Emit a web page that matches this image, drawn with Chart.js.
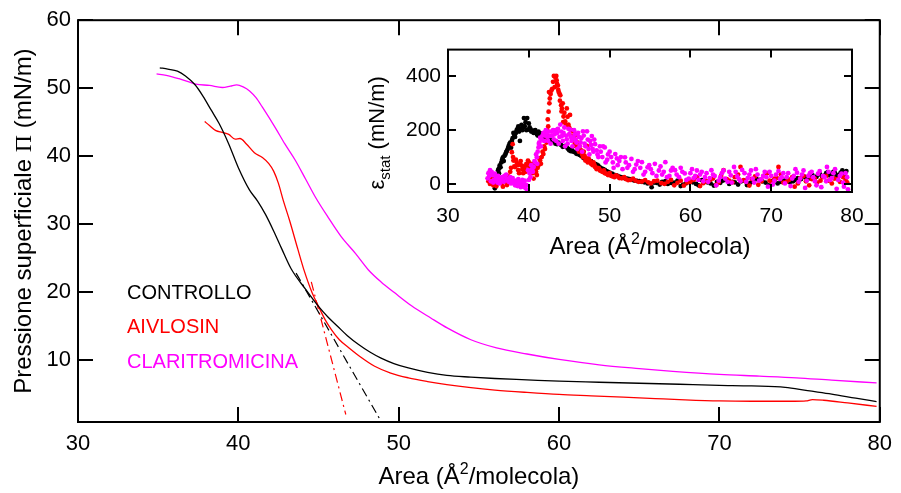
<!DOCTYPE html>
<html lang="it">
<head>
<meta charset="utf-8">
<title>Isoterme superficiali</title>
<script src="https://cdn.jsdelivr.net/npm/chart.js@4.4.1/dist/chart.umd.min.js"></script>
<style>
  html, body { margin: 0; padding: 0; background: #fff; }
  #wrap { position: relative; width: 901px; height: 493px; }
  #mainChart { position: absolute; left: 0; top: 0; }
  #insetChart { position: absolute; left: 340px; top: 30px; }
</style>
</head>
<body>
<div id="wrap">
  <canvas id="mainChart" width="901" height="493"></canvas>
  <canvas id="insetChart" width="540" height="230"></canvas>
</div>
<script>
// ========================================
// Data
// ========================================
const xTicks = [30, 40, 50, 60, 70, 80];
const yTicks = [10, 20, 30, 40, 50, 60];
const insetXTicks = [30, 40, 50, 60, 70, 80];
const insetYTicks = [0, 200, 400];

const seriesNames = ['CONTROLLO', 'AIVLOSIN', 'CLARITROMICINA'];
const seriesColors = ['#000000', '#ff0000', '#ff00ff'];

// Isoterme Π-A: [area, pressione]
const controllo = [
  [35.1,53.0],[35.6,52.8],[36.2,52.5],[36.7,51.8],[37.3,50.5],[37.8,48.8],[38.3,46.8],[38.8,44.8],
  [39.4,41.8],[40.0,38.3],[40.7,35.0],[41.2,33.4],[41.7,31.4],[42.2,29.0],[42.7,26.4],[43.3,23.4],
  [44.2,20.4],[45.0,17.9],[45.6,16.3],[46.2,14.95],[46.8,13.6],[47.5,12.3],[48.2,11.2],[48.9,10.3],
  [49.7,9.5],[50.6,8.85],[51.8,8.2],[53.0,7.75],[54.5,7.5],[56.0,7.3],[58.0,7.1],[60.0,6.9],
  [62.5,6.75],[65.0,6.6],[67.5,6.45],[70.0,6.3],[72.0,6.2],[74.1,6.0],[75.5,5.5],[77.0,5.0],
  [78.5,4.4],[79.8,3.9]
];
const aivlosin = [
  [37.9,45.1],[38.2,44.5],[38.6,43.75],[39.0,43.5],[39.4,43.2],[39.8,42.5],[40.1,42.6],[40.5,41.8],
  [41.0,40.5],[41.5,39.8],[41.9,38.9],[42.2,37.8],[42.5,36.0],[42.8,33.5],[43.2,30.5],[43.7,26.4],
  [44.1,23.2],[44.6,19.9],[45.0,17.9],[45.4,16.0],[45.8,14.5],[46.3,13.0],[46.9,11.8],[47.6,10.5],
  [48.5,9.1],[49.5,8.1],[50.6,7.4],[51.8,6.85],[53.0,6.4],[54.5,5.95],[56.0,5.6],[58.0,5.25],
  [60.0,4.95],[62.0,4.75],[64.0,4.55],[66.0,4.35],[67.5,4.2],[70.0,4.0],[72.0,3.95],[74.7,3.95],
  [75.4,4.0],[75.8,4.2],[76.5,4.1],[78.0,3.7],[79.8,3.2]
];
const claritromicina = [
  [34.9,52.1],[35.5,51.9],[36.3,51.4],[37.35,50.6],[38.2,50.4],[39.0,50.1],[39.5,50.3],[39.9,50.5],
  [40.3,50.2],[40.7,49.6],[41.1,48.6],[41.5,47.2],[42.3,44.2],[42.9,41.8],[43.55,39.4],[44.2,36.6],
  [44.8,34.0],[45.6,31.0],[46.4,28.2],[47.3,25.7],[48.1,23.3],[48.9,21.5],[49.75,19.9],[50.8,18.0],
  [52.0,16.2],[53.05,14.7],[54.5,13.0],[56.1,11.8],[58.0,10.9],[60.0,10.1],[62.5,9.3],[65.0,8.75],
  [67.1,8.35],[70.0,7.9],[72.5,7.65],[74.8,7.4],[77.0,7.05],[79.8,6.65]
];
// rette di estrapolazione (tratto-punto)
const tangenteControllo = [[43.6,22.8],[48.9,1.0]];
const tangenteAivlosin = [[44.55,21.5],[46.7,2.0]];

// Modulo elastico statico: [area, epsilon]
const elastControllo = [
  [35.8,-16],[35.9,5],[36.0,30],[36.2,51],[36.3,40],[36.4,69],[36.6,80],[36.8,99],[36.9,85],[37.1,110],
  [37.3,124],[37.5,140],[37.7,154],[37.8,135],[38.0,170],[38.1,190],[38.3,175],[38.5,200],[38.7,214],
  [38.8,195],[38.9,160],[39.0,205],[39.1,220],[39.3,210],[39.4,245],[39.5,215],[39.7,200],[39.8,245],
  [39.9,202],[40.1,210],[40.3,195],[40.6,190],[40.8,200],[41.0,185],[41.2,195],[41.4,178],[41.7,185],
  [42.0,170],[42.3,175],[42.6,165],[43.0,160],[43.3,150],[43.6,155],[44.0,145],[44.3,140],[44.7,136],
  [45.0,125],[45.3,128],[45.7,118],[46.1,111],[46.5,104],[46.9,95],[47.3,90],[47.7,85],[48.2,75],
  [48.6,68],[49.0,58],[49.4,52],[49.8,45],[50.3,38],[50.8,32],[51.3,26],[51.9,21],[52.5,18],[53.1,12],
  [53.7,10],[54.3,6],[55.2,-12],[55.8,4],[56.5,8],[57.2,0],[58.0,5],[58.8,-8],[59.5,3],[60.3,6],
  [61.0,-5],[61.8,10],[62.5,2],[63.3,8],[64.0,12],[64.8,0],[65.5,6],[66.3,10],[67.0,-4],[67.8,8],
  [68.6,15],[69.3,5],[70.1,10],[70.8,2],[71.6,12],[72.3,6],[73.0,15],[73.7,18],[74.3,25],[74.8,30],
  [75.3,22],[75.8,35],[76.3,28],[76.8,40],[77.2,32],[77.7,45],[78.1,30],[78.6,42],[79.0,35],[79.3,48],
  [35.9,-8],[36.1,20],[36.3,58],[36.5,62],[36.7,90],[37.0,105],[37.2,118],[37.4,130],[37.6,148],[37.9,160],
  [38.2,182],[38.4,190],[38.6,205],[39.2,200],[39.6,230],[40.0,225],[40.2,205],[40.5,198],[40.9,192],
  [41.1,180],[41.5,188],[41.9,175],[42.2,168],[42.5,172],[42.8,160],[43.2,158],[43.5,148],[43.8,150],
  [44.2,138],[44.5,142],[44.9,130],[45.2,122],[45.5,120],[45.9,112],[46.3,108],[46.7,98],[47.1,92],
  [47.5,86],[47.9,80],[48.4,72],[48.8,62],[49.2,55],[49.6,48],[50.0,42],[50.5,35],[51.0,30],[51.6,24],
  [52.2,20],[52.8,15],[53.4,11],[54.0,8],[54.7,2],[55.5,5],[56.2,-2],[56.9,10],[57.6,4],[58.4,12],
  [59.1,-3],[59.9,9],[60.7,0],[61.4,14],[62.1,6],[62.9,-6],[63.7,4],[64.4,16],[65.2,8],[65.9,-2],
  [66.7,12],[67.4,4],[68.2,18],[68.9,10],[69.7,-5],[70.4,14],[71.2,8],[72.0,20],[72.7,10],[73.3,22],
  [74.0,28],[74.6,20],[75.1,33],[75.6,26],[76.0,38],[76.5,30],[77.0,44],[77.5,36],[77.9,40],[78.4,34],
  [78.8,50],[79.1,38]
];
const elastAivlosin = [
  [35.0,10],[35.3,25],[35.6,-5],[35.9,15],[36.2,5],[36.5,20],[36.8,-10],[37.1,8],[37.4,30],[37.7,45],
  [37.9,118],[38.0,148],[38.1,87],[38.2,65],[38.3,63],[38.5,80],[38.7,51],[38.9,72],[39.1,69],[39.3,40],
  [39.5,57],[39.7,75],[39.9,87],[40.1,60],[40.4,75],[40.6,20],[40.8,55],[41.0,33],[41.2,70],[41.4,87],
  [41.6,100],[41.8,111],[42.0,130],[42.2,154],[42.3,180],[42.4,214],[42.45,269],[42.5,342],[42.6,318],
  [42.8,348],[42.9,354],[43.1,402],[43.3,395],[43.4,402],[43.5,372],[43.6,366],[43.7,342],[43.8,336],
  [43.9,330],[44.0,293],[44.1,281],[44.2,300],[44.3,251],[44.5,233],[44.7,281],[44.8,250],[44.9,221],
  [45.1,257],[45.3,200],[45.5,196],[45.7,150],[45.9,184],[46.1,130],[46.3,140],[46.6,110],[46.8,120],
  [47.0,87],[47.2,142],[47.4,95],[47.7,75],[48.0,80],[48.2,63],[48.5,60],[48.8,50],[49.1,45],[49.4,40],
  [49.8,33],[50.2,30],[50.6,25],[51.0,28],[51.5,21],[52.0,18],[52.6,15],[53.2,12],[54.0,9],[54.8,6],
  [55.5,10],[56.4,3],[57.2,8],[58.0,-5],[58.8,12],[59.6,5],[60.4,15],[61.2,-8],[62.0,10],[62.8,20],
  [63.5,5],[64.1,51],[64.8,12],[65.5,25],[66.2,63],[66.9,8],[67.6,18],[68.4,-3],[69.1,30],[69.8,12],
  [70.4,20],[70.9,63],[71.5,5],[72.2,15],[72.9,-10],[73.6,22],[74.3,10],[75.0,18],[75.7,5],[76.4,25],
  [77.1,12],[77.8,20],[78.5,8],[79.2,15],
  [35.2,0],[35.5,18],[35.8,30],[36.0,-8],[36.3,12],[36.7,2],[37.0,25],[37.3,-4],[37.6,15],[37.8,60],
  [38.05,100],[38.4,90],[38.6,70],[38.8,40],[39.0,85],[39.2,55],[39.4,65],[39.6,45],[39.8,70],[40.0,80],
  [40.2,50],[40.5,40],[40.7,68],[40.9,45],[41.1,60],[41.3,95],[41.5,75],[41.7,120],[41.9,140],[42.1,160],
  [42.25,200],[42.35,240],[42.55,300],[42.7,335],[43.0,380],[43.2,360],[43.45,385],[43.65,350],[43.85,310],
  [44.05,270],[44.25,230],[44.4,265],[44.6,220],[45.0,210],[45.2,180],[45.4,165],[45.6,175],[45.8,140],
  [46.0,155],[46.2,120],[46.5,125],[46.7,100],[46.9,105],[47.1,95],[47.3,80],[47.6,85],[47.9,70],[48.1,72],
  [48.4,55],[48.7,58],[49.0,48],[49.3,50],[49.6,38],[50.0,40],[50.4,28],[50.8,32],[51.2,22],[51.8,25],
  [52.3,14],[52.9,20],[53.6,8],[54.4,14],[55.1,2],[55.9,12],[56.8,0],[57.6,15],[58.4,4],[59.2,-6],
  [60.0,8],[60.8,25],[61.6,3],[62.4,14],[63.2,-4],[63.8,30],[64.5,18],[65.2,6],[65.9,35],[66.6,14],
  [67.3,-6],[68.0,28],[68.8,10],[69.5,40],[70.1,4],[70.7,22],[71.2,35],[71.9,8],[72.6,25],[73.3,2],
  [74.0,30],[74.7,-5],[75.4,20],[76.1,12],[76.8,30],[77.5,2],[78.2,18],[78.9,25],[79.4,6]
];
const elastClaritromicina = [
  [34.9,21],[35.0,40],[35.2,51],[35.3,10],[35.5,33],[35.7,15],[35.9,28],[36.1,5],[36.3,22],[36.5,12],
  [36.8,15],[37.0,30],[37.3,20],[37.5,8],[37.7,25],[37.9,15],[38.1,10],[38.3,-5],[38.5,2],[38.7,18],
  [38.9,-4],[39.1,5],[39.3,-10],[39.5,12],[39.6,-16],[39.7,-4],[39.8,-28],[39.9,51],[40.0,15],[40.1,40],
  [40.4,55],[40.6,63],[40.8,80],[41.0,99],[41.1,120],[41.2,136],[41.3,155],[41.4,172],[41.6,165],[41.8,190],
  [42.0,180],[42.2,190],[42.4,160],[42.6,178],[42.8,195],[43.1,166],[43.3,200],[43.5,190],[43.7,150],
  [43.9,221],[44.1,178],[44.3,190],[44.5,140],[44.7,166],[44.9,205],[45.1,202],[45.3,160],[45.5,172],
  [45.7,184],[45.9,154],[46.1,190],[46.3,140],[46.5,170],[46.7,196],[46.9,150],[47.2,196],[47.4,130],
  [47.6,160],[47.8,178],[48.0,120],[48.2,148],[48.5,110],[48.8,140],[49.1,100],[49.4,136],[49.7,90],
  [50.0,120],[50.4,80],[50.7,111],[51.0,70],[51.4,100],[51.9,99],[52.2,60],[52.7,93],[53.1,55],[53.5,85],
  [54.0,81],[54.4,45],[54.9,70],[55.3,40],[55.6,75],[56.1,50],[56.5,35],[56.9,81],[57.4,30],[57.8,60],
  [58.1,51],[58.6,25],[59.0,45],[59.3,39],[59.8,20],[60.2,55],[60.6,30],[61.0,15],[61.4,45],[61.8,25],
  [62.2,8],[62.6,51],[63.0,30],[63.5,12],[63.9,40],[64.3,20],[64.8,45],[65.1,5],[65.4,63],[65.8,28],
  [66.2,10],[66.7,40],[67.1,22],[67.5,50],[67.9,5],[68.3,35],[68.8,18],[69.2,45],[69.6,-10],[70.0,30],
  [70.4,12],[70.9,48],[71.3,25],[71.7,2],[72.1,40],[72.6,20],[73.0,55],[73.4,8],[73.8,35],[74.2,-15],
  [74.6,30],[75.0,45],[75.4,10],[75.8,38],[76.2,-12],[76.6,25],[76.9,63],[77.3,15],[77.7,40],[78.1,-18],
  [78.5,30],[78.9,5],[79.2,40],[79.5,-20],
  [35.1,30],[35.4,45],[35.6,5],[35.8,38],[36.0,18],[36.2,30],[36.4,2],[36.7,25],[36.9,8],[37.2,35],
  [37.4,12],[37.6,18],[37.8,2],[38.0,22],[38.2,8],[38.4,12],[38.6,-8],[38.8,8],[39.0,-12],[39.2,15],
  [39.4,0],[40.2,25],[40.3,70],[40.5,45],[40.7,85],[40.9,110],[41.05,75],[41.25,150],[41.5,140],[41.7,180],
  [41.9,160],[42.1,200],[42.3,175],[42.5,195],[42.7,150],[42.9,180],[43.0,200],[43.2,185],[43.4,160],
  [43.6,205],[43.8,175],[44.0,195],[44.2,160],[44.4,210],[44.6,180],[44.8,150],[45.0,185],[45.2,175],
  [45.4,140],[45.6,200],[45.8,165],[46.0,130],[46.2,175],[46.4,155],[46.6,120],[46.8,180],[47.0,140],
  [47.3,165],[47.5,110],[47.7,145],[47.9,130],[48.1,165],[48.4,125],[48.6,100],[48.9,120],[49.2,140],
  [49.5,80],[49.8,110],[50.2,100],[50.5,60],[50.9,95],[51.2,85],[51.6,55],[52.0,80],[52.4,70],[52.9,45],
  [53.3,72],[53.8,60],[54.2,35],[54.7,62],[55.1,55],[55.8,30],[56.3,65],[56.7,45],[57.1,25],[57.6,50],
  [58.3,35],[58.8,60],[59.5,15],[60.0,40],[60.4,22],[60.8,50],[61.2,35],[61.6,10],[62.0,40],[62.4,22],
  [62.8,35],[63.2,-5],[63.7,25],[64.1,50],[64.6,8],[65.0,32],[65.6,45],[66.0,18],[66.4,52],[66.9,8],
  [67.3,35],[67.7,20],[68.1,55],[68.5,12],[69.0,30],[69.4,25],[69.8,45],[70.2,-2],[70.6,35],[71.1,18],
  [71.5,40],[71.9,25],[72.4,-8],[72.8,30],[73.2,42],[73.6,20],[74.0,50],[74.4,12],[74.8,40],[75.2,25],
  [75.6,-5],[76.0,48],[76.4,30],[76.8,10],[77.1,45],[77.5,22],[77.9,55],[78.3,15],[78.7,38],[79.0,-10],
  [79.4,25]
];

// ========================================
// Helpers & plugins
// ========================================
const FONT = '"Liberation Sans", Arial, Helvetica, sans-serif';
const SERIF = '"Liberation Serif", "Times New Roman", serif';
Chart.defaults.font.family = FONT;
Chart.defaults.color = '#000';

const toXY = pts => pts.map(p => ({ x: p[0], y: p[1] }));

// text made of runs, for superscripts/subscripts in the axis titles
function drawRuns(ctx, runs, x, y, size, rotate) {
  ctx.save();
  ctx.translate(x, y);
  if (rotate) ctx.rotate(-Math.PI / 2);
  ctx.fillStyle = '#000';
  ctx.textBaseline = 'alphabetic';
  const fontOf = r => `${Math.round(size * (r.s || 1))}px ${r.f || FONT}`;
  let total = 0;
  runs.forEach(r => { ctx.font = fontOf(r); total += ctx.measureText(r.t).width; });
  let cx = -total / 2;
  const base = size * 0.36;
  runs.forEach(r => {
    ctx.font = fontOf(r);
    ctx.fillText(r.t, cx, base + (r.dy || 0) * size);
    cx += ctx.measureText(r.t).width;
  });
  ctx.restore();
}

// box around the plot area with inward ticks on all four sides
const frameTicks = {
  id: 'frameTicks',
  afterDatasetsDraw(chart, args, opts) {
    const { ctx, chartArea: a, scales } = chart;
    const len = opts.tickLength;
    ctx.save();
    ctx.strokeStyle = '#000';
    ctx.lineWidth = opts.lineWidth;
    ctx.beginPath();
    opts.xTicks.forEach(v => {
      const px = Math.round(scales.x.getPixelForValue(v));
      ctx.moveTo(px, a.bottom); ctx.lineTo(px, a.bottom - len);
      ctx.moveTo(px, a.top); ctx.lineTo(px, a.top + len);
    });
    opts.yTicks.forEach(v => {
      const py = Math.round(scales.y.getPixelForValue(v));
      ctx.moveTo(a.left, py); ctx.lineTo(a.left + len, py);
      ctx.moveTo(a.right, py); ctx.lineTo(a.right - len, py);
    });
    ctx.stroke();
    ctx.strokeRect(a.left, a.top, a.right - a.left, a.bottom - a.top);
    ctx.restore();
  }
};

const axisTitles = {
  id: 'axisTitles',
  afterDraw(chart, args, opts) {
    const a = chart.chartArea;
    opts.items.forEach(it => {
      const x = it.x != null ? it.x : (a.left + a.right) / 2;
      const y = it.y != null ? it.y : (a.top + a.bottom) / 2 + (it.dy || 0);
      drawRuns(chart.ctx, it.runs, x, y, it.size || opts.size, it.rotate);
    });
  }
};

// coloured series names written inside the plot
const seriesLabels = {
  id: 'seriesLabels',
  afterDraw(chart, args, opts) {
    const { ctx } = chart;
    ctx.save();
    ctx.font = `${opts.size}px ${FONT}`;
    ctx.textBaseline = 'middle';
    chart.data.datasets.slice(0, seriesNames.length).forEach((ds, i) => {
      ctx.fillStyle = ds.borderColor;
      ctx.fillText(ds.label, opts.x, opts.y + i * opts.step);
    });
    ctx.restore();
  }
};

function fixedTicks(values) {
  return scale => { scale.ticks = values.map(v => ({ value: v })); };
}

// ========================================
// Main chart
// ========================================
const lineStyle = { pointRadius: 0, borderWidth: 1.3, fill: false, cubicInterpolationMode: 'monotone' };

new Chart(document.getElementById('mainChart'), {
  type: 'line',
  data: {
    datasets: [
      { label: seriesNames[0], data: toXY(controllo), borderColor: seriesColors[0], ...lineStyle },
      { label: seriesNames[1], data: toXY(aivlosin), borderColor: seriesColors[1], ...lineStyle },
      { label: seriesNames[2], data: toXY(claritromicina), borderColor: seriesColors[2], ...lineStyle },
      { label: 'tang-c', data: toXY(tangenteControllo), borderColor: seriesColors[0], pointRadius: 0,
        borderWidth: 1.2, borderDash: [9, 4, 2, 4] },
      { label: 'tang-a', data: toXY(tangenteAivlosin), borderColor: seriesColors[1], pointRadius: 0,
        borderWidth: 1.2, borderDash: [9, 4, 2, 4] }
    ]
  },
  options: {
    responsive: false,
    animation: false,
    devicePixelRatio: 1,
    layout: { padding: { top: 19, right: 16, left: 0, bottom: 0 } },
    plugins: {
      legend: { display: false },
      tooltip: { enabled: false },
      frameTicks: { tickLength: 15, lineWidth: 2, xTicks: xTicks, yTicks: yTicks },
      axisTitles: {
        size: 24,
        items: [
          { runs: [{ t: 'Area (Å' }, { t: '2', s: 0.65, dy: -0.4 }, { t: '/molecola)' }], y: 475 },
          { runs: [{ t: 'Pressione superficiale ' }, { t: 'Π', f: SERIF }, { t: ' (mN/m)' }],
            x: 22, dy: 0, size: 24, rotate: true }
        ]
      },
      seriesLabels: { size: 20, x: 127, y: 293, step: 34.5 }
    },
    scales: {
      x: {
        type: 'linear', min: 30, max: 80,
        afterBuildTicks: fixedTicks(xTicks),
        afterFit: s => { s.height = 71; },
        grid: { display: false, drawTicks: false },
        border: { display: false },
        ticks: { padding: 9, font: { size: 22 }, maxRotation: 0, autoSkip: false }
      },
      y: {
        type: 'linear', min: 0.9, max: 60,
        afterBuildTicks: fixedTicks(yTicks),
        afterFit: s => { s.width = 78; },
        grid: { display: false, drawTicks: false },
        border: { display: false },
        ticks: { padding: 7, font: { size: 22 } }
      }
    }
  },
  plugins: [frameTicks, axisTitles, seriesLabels]
});

// ========================================
// Inset: static elasticity
// ========================================
const dotStyle = { pointRadius: 2.4, pointBorderWidth: 0, showLine: false };

new Chart(document.getElementById('insetChart'), {
  type: 'scatter',
  data: {
    datasets: [
      { label: seriesNames[2], data: toXY(elastClaritromicina), pointBackgroundColor: seriesColors[2], ...dotStyle },
      { label: seriesNames[1], data: toXY(elastAivlosin), pointBackgroundColor: seriesColors[1], ...dotStyle },
      { label: seriesNames[0], data: toXY(elastControllo), pointBackgroundColor: seriesColors[0], ...dotStyle }
    ]
  },
  options: {
    responsive: false,
    animation: false,
    devicePixelRatio: 1,
    layout: { padding: { top: 17, right: 28, left: 0, bottom: 0 } },
    plugins: {
      legend: { display: false },
      tooltip: { enabled: false },
      frameTicks: { tickLength: 8, lineWidth: 2, xTicks: insetXTicks, yTicks: insetYTicks },
      axisTitles: {
        size: 24,
        items: [
          { runs: [{ t: 'Area (Å' }, { t: '2', s: 0.65, dy: -0.4 }, { t: '/molecola)' }], y: 215 },
          { runs: [{ t: 'ε' }, { t: 'stat', s: 0.68, dy: 0.28 }, { t: ' (mN/m)' }],
            x: 36, dy: 12, size: 22, rotate: true }
        ]
      }
    },
    scales: {
      x: {
        type: 'linear', min: 30, max: 80,
        afterBuildTicks: fixedTicks(insetXTicks),
        afterFit: s => { s.height = 68; },
        grid: { display: false, drawTicks: false },
        border: { display: false },
        ticks: { padding: 12, font: { size: 21 }, maxRotation: 0, autoSkip: false }
      },
      y: {
        type: 'linear', min: -30, max: 500,
        afterBuildTicks: fixedTicks(insetYTicks),
        afterFit: s => { s.width = 108; },
        grid: { display: false, drawTicks: false },
        border: { display: false },
        ticks: { padding: 7, font: { size: 21 } }
      }
    }
  },
  plugins: [frameTicks, axisTitles]
});
</script>
</body>
</html>
